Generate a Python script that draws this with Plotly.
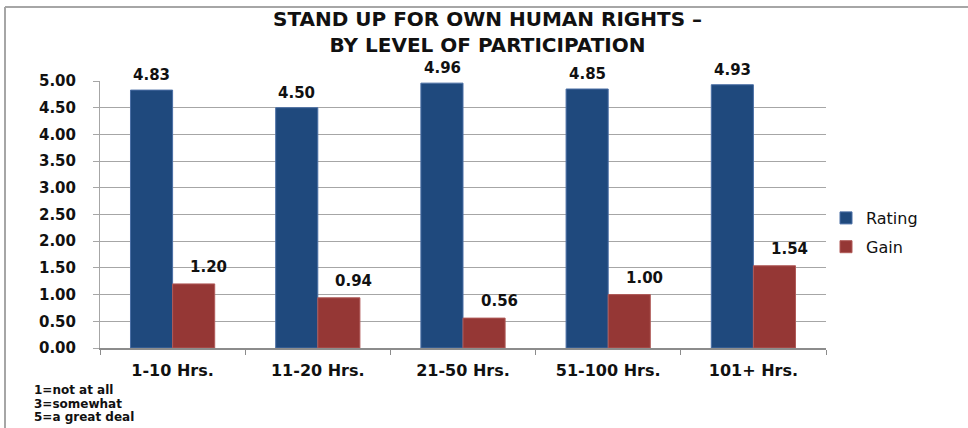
import plotly.graph_objects as go

categories = ["1-10 Hrs.", "11-20 Hrs.", "21-50 Hrs.", "51-100 Hrs.", "101+ Hrs."]
rating = [4.83, 4.50, 4.96, 4.85, 4.93]
gain = [1.20, 0.94, 0.56, 1.00, 1.54]
y_ticks = [0, 0.5, 1, 1.5, 2, 2.5, 3, 3.5, 4, 4.5, 5]
title_lines = ["STAND UP FOR OWN HUMAN RIGHTS –", "BY LEVEL OF PARTICIPATION"]
scale_key = ["1=not at all", "3=somewhat", "5=a great deal"]

W, H = 968, 428
ML, MR, MT, MB = 100, 142, 81, 80
plot_h = H - MT - MB
plot_w = W - ML - MR

BLUE = "#1F497D"
RED = "#953735"
TXT = "#111111"
BOLD_FONT = "DejaVu Sans, Verdana, Arial"
LABEL_FONT = dict(family=BOLD_FONT, size=15, color=TXT, weight="bold")


def px_x(px):
    return (px - ML) / plot_w


def px_y(py):
    return (H - MB - py) / plot_h


fig = go.Figure()
fig.add_trace(go.Bar(name="Rating", x=categories, y=rating, legendgroup="rating",
                     marker=dict(color=BLUE, line=dict(color="#4A6FA5", width=1))))
fig.add_trace(go.Bar(name="Gain", x=categories, y=gain, legendgroup="gain",
                     marker=dict(color=RED, line=dict(color="#B05A58", width=1))))

annotations = []
for i, c in enumerate(categories):
    annotations.append(dict(x=c, y=rating[i], xref="x", yref="y", text=f"{rating[i]:.2f}",
                            showarrow=False, yanchor="bottom", xshift=-21, yshift=5, borderpad=0,
                            font=LABEL_FONT))
    annotations.append(dict(x=c, y=gain[i], xref="x", yref="y", text=f"{gain[i]:.2f}",
                            showarrow=False, yanchor="bottom", xshift=36, yshift=7, borderpad=0,
                            font=LABEL_FONT))

# chart title
annotations.append(dict(x=px_x(488), y=px_y(32), xref="paper", yref="paper",
                        text="<br>".join(title_lines), borderpad=0,
                        showarrow=False, xanchor="center", yanchor="middle",
                        font=dict(family=BOLD_FONT, size=20, color=TXT, weight="bold")))

# scale key below the axis
for line, yc in zip(scale_key, [390, 403.5, 417]):
    annotations.append(dict(x=px_x(33), y=px_y(yc), xref="paper", yref="paper", text=line,
                            showarrow=False, xanchor="left", yanchor="middle", align="left",
                            borderpad=0,
                            font=dict(family=BOLD_FONT, size=12, color=TXT, weight="bold")))

shapes = [
    dict(type="line", xref="paper", yref="paper", x0=px_x(5), x1=px_x(968), y0=px_y(7), y1=px_y(7),
         line=dict(color="#A6A6A6", width=2)),
    dict(type="line", xref="paper", yref="paper", x0=px_x(5), x1=px_x(5), y0=px_y(7), y1=px_y(428),
         line=dict(color="#A6A6A6", width=2)),
]

fig.update_layout(
    width=W, height=H,
    margin=dict(l=ML, r=MR, t=MT, b=MB),
    paper_bgcolor="white", plot_bgcolor="white",
    barmode="group", bargap=0.42, bargroupgap=0,
    showlegend=True,
    legend=dict(x=px_x(826), y=px_y(201), xanchor="left", yanchor="top",
                font=dict(family="DejaVu Sans, Verdana, Arial", size=16, color=TXT),
                tracegroupgap=5, itemwidth=30),
    annotations=annotations,
    shapes=shapes,
    xaxis=dict(type="category", showgrid=False, showline=True, linecolor="#8C8C8C", linewidth=2,
               ticks="outside", tickson="boundaries", ticklen=5, tickcolor="#8C8C8C",
               tickfont=dict(family=BOLD_FONT, size=16, color=TXT, weight="bold"),
               ticklabelstandoff=7),
    yaxis=dict(range=[0, 5], tickvals=y_ticks, ticktext=[f"{v:.2f}" for v in y_ticks],
               showgrid=True, gridcolor="#A6A6A6", gridwidth=1,
               showline=True, linecolor="#A6A6A6", linewidth=1,
               ticks="outside", ticklen=6, tickcolor="#A6A6A6",
               tickfont=dict(family=BOLD_FONT, size=15, color=TXT, weight="bold"),
               ticklabelstandoff=14, zeroline=False),
)

fig.write_html("out.html")
